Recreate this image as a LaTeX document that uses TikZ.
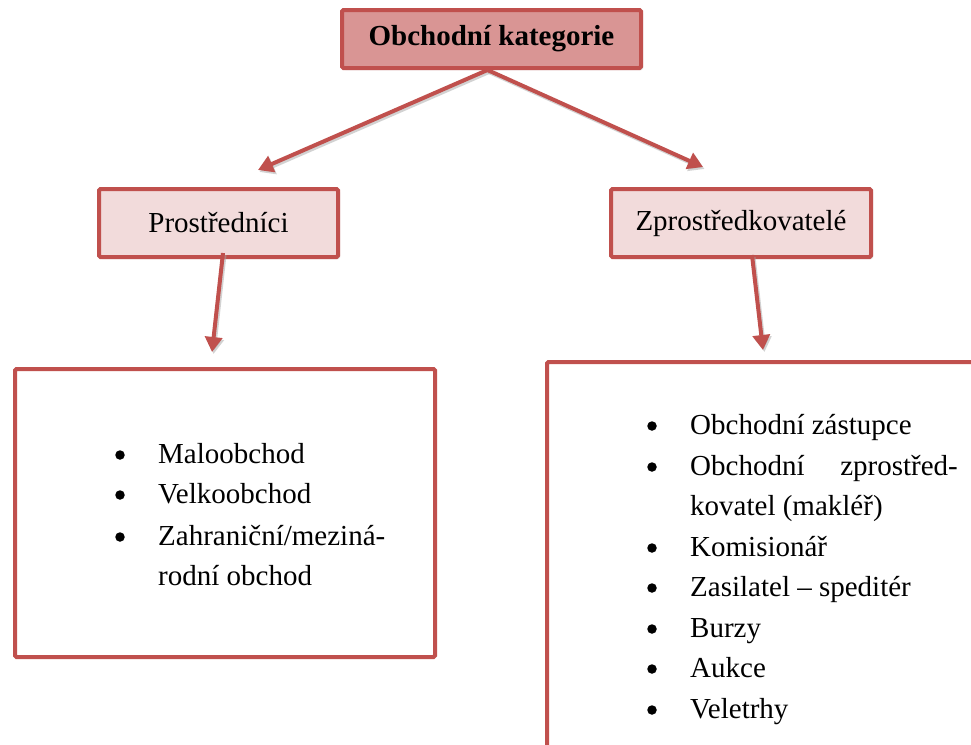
\documentclass[tikz,border=0pt]{standalone}
\usepackage{fontspec}
\setmainfont{Liberation Serif}
\usetikzlibrary{arrows.meta,shadows}
\definecolor{redline}{HTML}{C0504D}
\definecolor{darkpink}{HTML}{D99594}
\definecolor{lightpink}{HTML}{F2DBDB}
\tikzset{
  catbox/.style={draw=redline, line width=4pt, rounded corners=1.5pt, inner sep=0pt, align=center,
    font=\fontsize{29}{36}\selectfont, drop shadow={shadow xshift=2pt, shadow yshift=-2pt, opacity=0.25}},
  listbox/.style={draw=redline, line width=4pt, fill=white, rounded corners=1.5pt},
  conn/.style={draw=redline, line width=4pt, -{Triangle[length=15pt,width=17pt]},
    preaction={draw=black!35, line width=4pt, transform canvas={xshift=1.5pt,yshift=-2pt}, opacity=0.5, -{Triangle[length=15pt,width=17pt]}}},
  item/.style={anchor=base west, inner sep=0pt, font=\fontsize{29}{40}\selectfont},
  bul/.style={circle, fill=black, inner sep=0pt, minimum size=9.5pt},
}
\begin{document}
\begin{tikzpicture}[x=1pt,y=-1pt]
\useasboundingbox (0,0) rectangle (971,744);
\fill[white] (0,0) rectangle (971,744);
\begin{scope}
\clip (0,0) rectangle (971,744);
% boxes
\node[catbox, fill=darkpink, minimum width=299pt, minimum height=58pt] (top) at (491.5,39) {\textbf{Obchodní kategorie}};
\node[catbox, fill=lightpink, minimum width=239pt, minimum height=68pt] (pro) at (218.5,223) {Prostředníci};
\node[catbox, fill=lightpink, minimum width=260pt, minimum height=68pt] (zpr) at (741,223) {Zprostředkovatelé};
\node[listbox, minimum width=420pt, minimum height=288pt, inner sep=0pt] (lbox) at (225,513) {};
\node[listbox, minimum width=440pt, minimum height=390pt, inner sep=0pt] (rbox) at (767,557) {};
% connectors
\coordinate (t1) at (258,170);
\coordinate (t2) at (703,167);
\coordinate (t3) at (212,352);
\coordinate (t4) at (763,350);
\draw[conn] ([xshift=-4pt]top.south) -- (t1);
\draw[conn] ([xshift=-4pt]top.south) -- (t2);
\draw[conn] ([xshift=4.5pt,yshift=6pt]pro.south) -- (t3);
\draw[conn] ([xshift=11pt,yshift=4pt]zpr.south) -- (t4);
% left list
\node[bul] (lb1) at (120,455) {};
\node[bul] (lb2) at (120,495) {};
\node[bul] (lb3) at (120,537) {};
\node[item] (l1) at (158,463) {Maloobchod};
\node[item] (l2) at (158,503) {Velkoobchod};
\node[item] (l3) at (158,545) {Zahraniční/meziná-};
\node[item] (l4) at (158,585) {rodní obchod};
% right list
\node[bul] (rb1) at (652,426) {};
\node[bul] (rb2) at (652,467) {};
\node[bul] (rb3) at (652,548) {};
\node[bul] (rb4) at (652,588) {};
\node[bul] (rb5) at (652,629) {};
\node[bul] (rb6) at (652,669) {};
\node[bul] (rb7) at (652,710) {};
\node[item] (r1) at (690,434) {Obchodní zástupce};
\node[item] (r2a) at (690,475) {Obchodní};
\node[item, anchor=base east] (r2b) at (958,475) {zprostřed-};
\node[item] (r2c) at (690,515) {kovatel (makléř)};
\node[item] (r3) at (690,556) {Komisionář};
\node[item] (r4) at (690,596) {Zasilatel – speditér};
\node[item] (r5) at (690,637) {Burzy};
\node[item] (r6) at (690,677) {Aukce};
\node[item] (r7) at (690,718) {Veletrhy};
\end{scope}
\end{tikzpicture}
\end{document}
